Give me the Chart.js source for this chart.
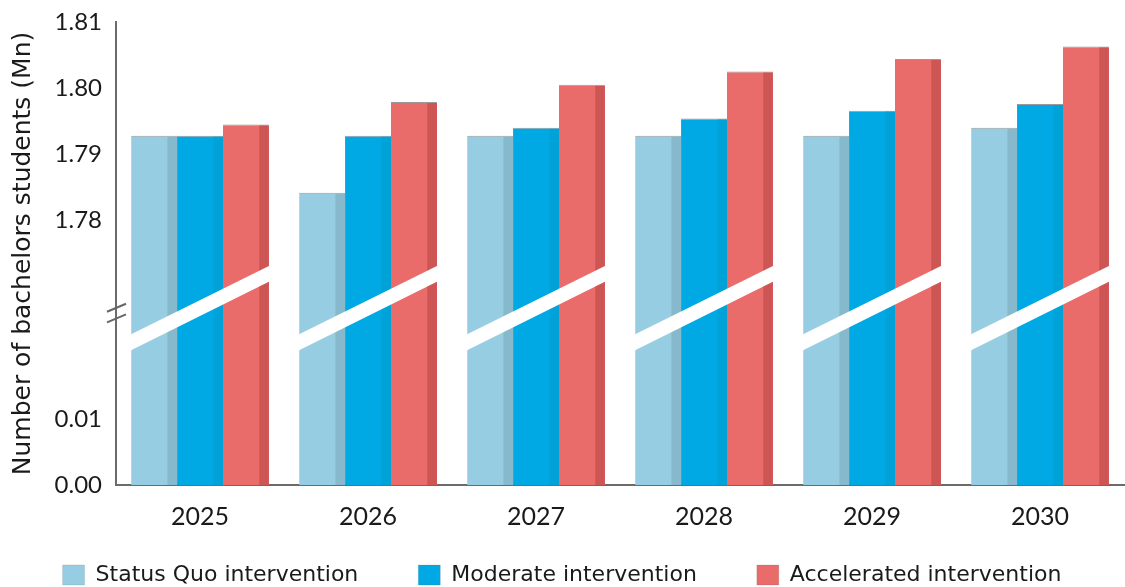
<!DOCTYPE html>
<html>
<head>
<meta charset="utf-8">
<script src="https://cdn.jsdelivr.net/npm/chart.js@4"></script>
<style>
  html, body { margin: 0; padding: 0; background: #fff; overflow: hidden; }
  #wrap { width: 1125px; height: 627px; }
</style>
</head>
<body>
<div id="wrap"><canvas id="grafico"></canvas></div>
<script>
// data (millions of students)
const anos = ['2025', '2026', '2027', '2028', '2029', '2030'];
const statusQuo = [1.7928, 1.7842, 1.7928, 1.7928, 1.7928, 1.7940];
const moderado = [1.7928, 1.7928, 1.7940, 1.7954, 1.7966, 1.7976];
const acelerado = [1.7945, 1.7979, 1.8005, 1.8025, 1.8044, 1.8063];
const yTicks = [0.00, 0.01, 1.78, 1.79, 1.80, 1.81];

const cores = ['#96cde2', '#00a9e3', '#e96b6a'];
const sombras = ['#85b9cb', '#00a2d8', '#cd5654'];

// broken axis: 0..0.01 on the bottom, 1.78..1.81 on top, gap of 2 units between
function eixo(v) {
    if (v >= 1.78) return 4 + (v - 1.78) / 0.01;
    return v / 0.01;
}

const quebraEsq = 2.15, quebraDir = 3.2, quebraMeia = 0.12;

const efeitos = {
    id: 'efeitos',
    afterLayout(chart) {
        // pull the legend up closer to the axis labels
        chart.legend.top -= 31;
        chart.legend.bottom -= 31;
    },
    afterDatasetsDraw(chart) {
        const ctx = chart.ctx;
        const y = chart.scales.y;
        ctx.save();
        // darker right side of each bar
        chart.data.datasets.forEach((ds, i) => {
            chart.getDatasetMeta(i).data.forEach(bar => {
                const w = bar.width * 0.21;
                ctx.fillStyle = sombras[i];
                ctx.fillRect(bar.x + bar.width / 2 - w, bar.y + 1, w, bar.base - bar.y - 1);
            });
        });
        // white break bands across each group
        const ult = chart.data.datasets.length - 1;
        anos.forEach((a, c) => {
            const p = chart.getDatasetMeta(0).data[c];
            const q = chart.getDatasetMeta(ult).data[c];
            const x0 = p.x - p.width / 2 - 1, x1 = q.x + q.width / 2 + 1;
            ctx.fillStyle = '#fff';
            ctx.beginPath();
            ctx.moveTo(x0, y.getPixelForValue(quebraEsq + quebraMeia));
            ctx.lineTo(x1, y.getPixelForValue(quebraDir + quebraMeia));
            ctx.lineTo(x1, y.getPixelForValue(quebraDir - quebraMeia));
            ctx.lineTo(x0, y.getPixelForValue(quebraEsq - quebraMeia));
            ctx.closePath();
            ctx.fill();
        });
        ctx.restore();
    },
    afterDraw(chart) {
        // break marks on the y axis
        const ctx = chart.ctx;
        const y = chart.scales.y;
        const x = chart.chartArea.left;
        ctx.save();
        ctx.strokeStyle = '#666';
        ctx.lineWidth = 2;
        [2.68, 2.52].forEach(v => {
            const py = y.getPixelForValue(v);
            ctx.beginPath();
            ctx.moveTo(x - 9, py + 4);
            ctx.lineTo(x + 10, py - 4);
            ctx.stroke();
        });
        ctx.restore();
    }
};

Chart.defaults.font.family = "Lato, 'DejaVu Sans', sans-serif";
Chart.defaults.color = '#1a1a1a';

new Chart(document.getElementById('grafico'), {
    type: 'bar',
    data: {
        labels: anos,
        datasets: [{
            label: 'Status Quo intervention',
            data: statusQuo.map(eixo),
            backgroundColor: cores[0]
        }, {
            label: 'Moderate intervention',
            data: moderado.map(eixo),
            backgroundColor: cores[1]
        }, {
            label: 'Accelerated intervention',
            data: acelerado.map(eixo),
            backgroundColor: cores[2]
        }]
    },
    options: {
        responsive: true,
        maintainAspectRatio: false,
        animation: false,
        layout: { padding: { top: 22, right: 1, left: 0, bottom: 0 } },
        datasets: {
            bar: {
                categoryPercentage: 0.82,
                barPercentage: 1,
                borderWidth: { top: 1, left: 0, right: 0, bottom: 0 },
                borderColor: 'rgba(110,110,110,0.7)'
            }
        },
        plugins: {
            tooltip: { enabled: false },
            legend: {
                position: 'bottom',
                labels: {
                    boxWidth: 22,
                    boxHeight: 20,
                    padding: 60,
                    font: { family: "'DejaVu Sans'", size: 22 }
                }
            }
        },
        scales: {
            x: {
                grid: { display: false, drawTicks: false },
                border: { display: true, color: '#6b6b6b', width: 2 },
                ticks: { font: { size: 25 }, padding: 17, autoSkip: false, maxRotation: 0 },
                afterFit(s) { s.height = 50; }
            },
            y: {
                min: 0,
                max: 7,
                grid: { display: false, drawTicks: false },
                border: { display: true, color: '#6b6b6b', width: 2 },
                afterBuildTicks(s) { s.ticks = yTicks.map(v => ({ value: eixo(v) })); },
                ticks: {
                    font: { size: 24 },
                    padding: 14,
                    callback: (v, i) => yTicks[i].toFixed(2)
                },
                title: {
                    display: true,
                    text: 'Number of bachelors students (Mn)',
                    font: { family: "'DejaVu Sans'", size: 25 },
                    padding: { top: 8, bottom: 0 }
                },
                afterFit(s) {
                    s.width = 116;
                    s.paddingTop = 0;
                    s.paddingBottom = 0;
                }
            }
        }
    },
    plugins: [efeitos]
});
</script>
</body>
</html>
